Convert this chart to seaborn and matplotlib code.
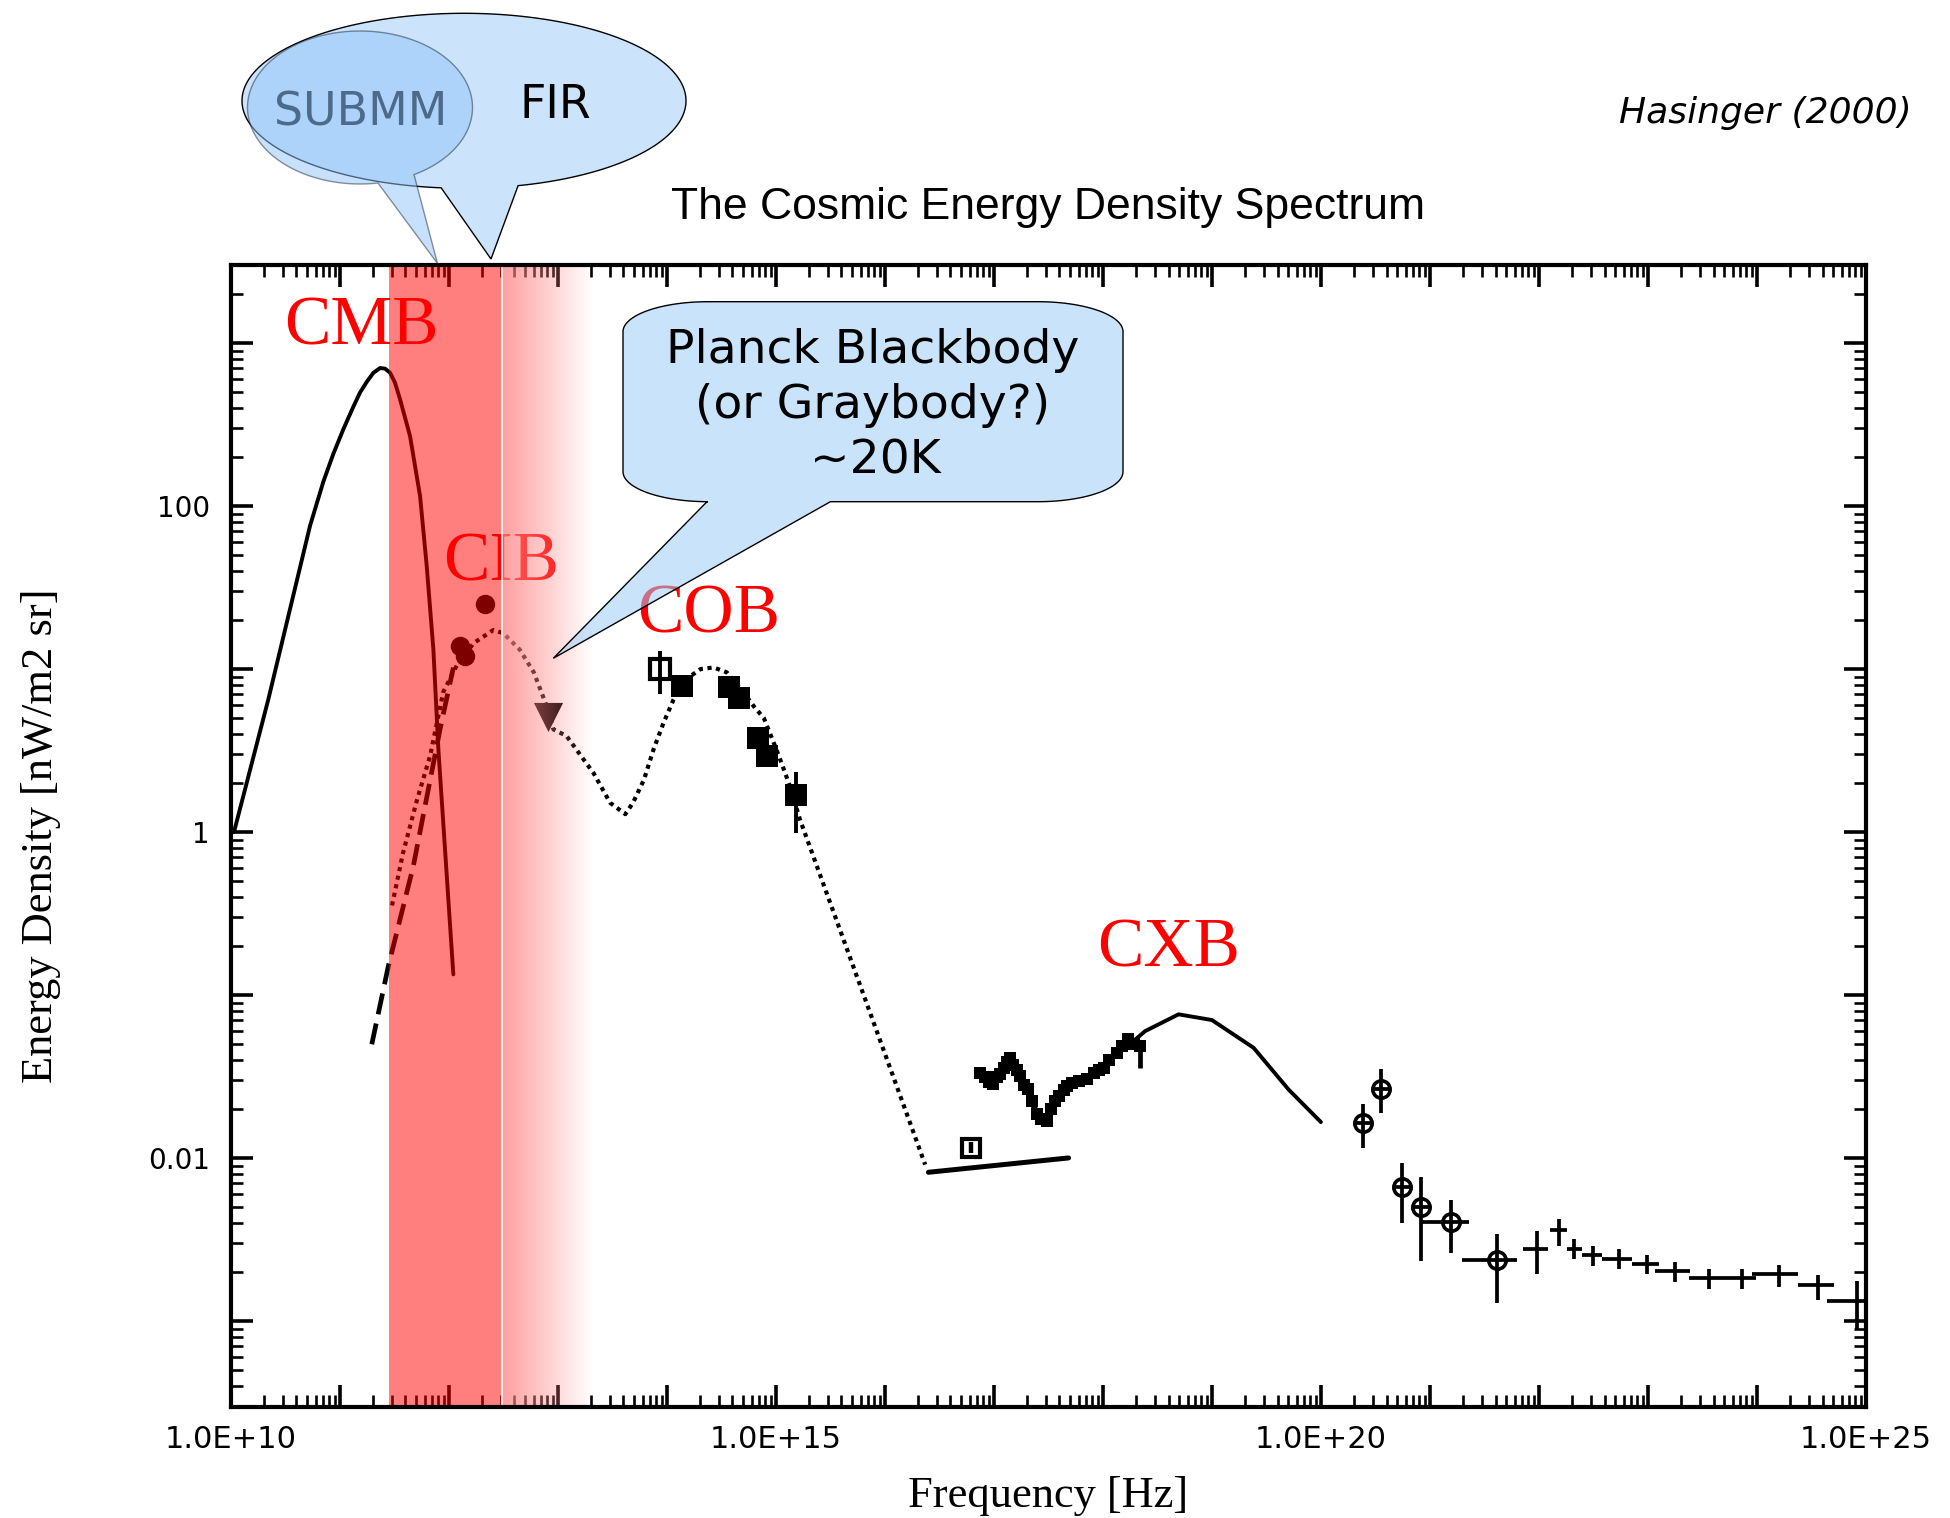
import numpy as np
import matplotlib
matplotlib.use("Agg")
import matplotlib.pyplot as plt
from matplotlib import ticker
from matplotlib.patches import Polygon
import seaborn as sns

sns.set_style("white")
plt.rcParams["font.family"] = ["DejaVu Sans"]
plt.rcParams["axes.axisbelow"] = "line"
for key in ["text.color", "axes.labelcolor", "xtick.color", "ytick.color", "axes.edgecolor"]:
    plt.rcParams[key] = "black"

# values as log10(nu / Hz) and log10(E / nW m^-2 sr^-1)

# CMB blackbody
cmb_lognu = [10.03, 10.345, 10.728, 10.850, 10.941, 11.033, 11.125, 11.186, 11.248, 11.308, 11.370,
             11.416, 11.462, 11.507, 11.554, 11.645, 11.737, 11.798, 11.859, 11.905, 12.042]
cmb_loge = [0.00, 0.814, 1.880, 2.150, 2.320, 2.471, 2.610, 2.696, 2.762, 2.817, 2.847,
            2.843, 2.818, 2.757, 2.654, 2.429, 2.061, 1.632, 1.121, 0.507, -0.873]

# CIB extrapolation (dashed)
cibx_lognu = [11.294, 11.446, 11.675, 11.920, 12.042]
cibx_loge = [-1.302, -0.822, -0.209, 0.630, 1.009]

# CIB measurements
cib_lognu = [12.104, 12.150, 12.333]
cib_loge = [1.141, 1.080, 1.397]
cib_lim_lognu = [12.914]
cib_lim_loge = [0.705]

# CIB + COB model (dotted)
mod_lognu = [11.48, 11.58, 11.71, 11.83, 11.95, 12.08, 12.23, 12.41, 12.50, 12.65, 12.78, 12.90,
             12.96, 13.08, 13.33, 13.48, 13.62, 13.69, 13.79, 13.88, 13.97, 14.06, 14.18, 14.31,
             14.43, 14.55, 14.70, 14.80, 14.89, 14.98, 15.06, 15.13, 15.22, 16.37]
mod_loge = [-0.45, -0.13, 0.20, 0.47, 0.86, 1.03, 1.16, 1.24, 1.22, 1.12, 0.98, 0.77,
            0.63, 0.59, 0.36, 0.18, 0.11, 0.18, 0.32, 0.51, 0.67, 0.81, 0.94, 1.00,
            1.01, 0.98, 0.86, 0.77, 0.70, 0.55, 0.41, 0.28, 0.08, -2.04]

# COB
cob_open_lognu = [13.939]
cob_open_loge = [0.998]
cob_open_lo = [0.845]
cob_open_hi = [1.110]
cob_lognu = [14.143, 14.572, 14.663, 14.835, 14.923, 15.186]
cob_loge = [0.896, 0.892, 0.824, 0.579, 0.466, 0.225]
cob_lo = [0.84, 0.86, 0.78, 0.55, 0.44, -0.004]
cob_hi = [0.96, 0.93, 0.85, 0.64, 0.50, 0.368]

# UV / EUV
uv_lognu = [16.400, 17.685]
uv_loge = [-2.087, -1.999]
uv_pt_lognu = [16.789]
uv_pt_loge = [-1.941]
uv_pt_lo = [-1.971]
uv_pt_hi = [-1.902]

# soft X-ray spectrum
sx_lognu = [16.874, 16.92, 16.96, 16.996, 17.03, 17.058, 17.09, 17.12, 17.149, 17.18, 17.21, 17.241,
            17.28, 17.317, 17.35, 17.394, 17.43, 17.486, 17.52, 17.562, 17.60, 17.64, 17.670, 17.72,
            17.78, 17.853, 17.92, 17.96, 18.006, 18.06, 18.128, 18.18, 18.235, 18.29, 18.342]
sx_loge = [-1.481, -1.50, -1.535, -1.548, -1.50, -1.487, -1.45, -1.41, -1.384, -1.43, -1.46, -1.497,
           -1.55, -1.579, -1.65, -1.732, -1.76, -1.773, -1.70, -1.650, -1.62, -1.58, -1.558, -1.54,
           -1.53, -1.517, -1.48, -1.46, -1.445, -1.40, -1.353, -1.31, -1.272, -1.30, -1.313]
sx_err_lognu = [18.342]
sx_err_mid = [-1.313]
sx_err_lo = [-1.445]
sx_err_hi = [-1.291]

# CXB
cxb_lognu = [18.281, 18.388, 18.694, 19.000, 19.382, 19.703, 20.000]
cxb_loge = [-1.282, -1.221, -1.118, -1.153, -1.323, -1.579, -1.779]

# gamma rays, circles
gc_lognu = [20.383, 20.548, 20.740, 20.918, 21.194, 21.617]
gc_loge = [-1.783, -1.574, -2.178, -2.301, -2.393, -2.628]
gc_loge_lo = [-1.936, -1.721, -2.396, -2.632, -2.580, -2.887]
gc_loge_hi = [-1.670, -1.456, -2.033, -2.114, -2.260, -2.464]
gc_lognu_lo = [20.30, 20.465, 20.657, 20.835, 20.918, 21.294]
gc_lognu_hi = [20.466, 20.631, 20.823, 21.001, 21.359, 21.798]

# gamma rays, crosses
gx_lognu = [21.982, 22.180, 22.322, 22.497, 22.735, 22.991, 23.250, 23.556, 23.862, 24.206, 24.561, 24.914]
gx_loge = [-2.556, -2.439, -2.556, -2.592, -2.617, -2.652, -2.693, -2.734, -2.734, -2.714, -2.781, -2.877]
gx_loge_lo = [-2.714, -2.540, -2.622, -2.659, -2.683, -2.714, -2.761, -2.806, -2.806, -2.789, -2.873, -3.051]
gx_loge_hi = [-2.448, -2.371, -2.499, -2.540, -2.560, -2.597, -2.636, -2.679, -2.683, -2.658, -2.720, -2.755]
gx_lognu_lo = [21.855, 22.104, 22.257, 22.391, 22.581, 22.856, 23.067, 23.372, 23.71, 23.957, 24.378, 24.645]
gx_lognu_hi = [22.084, 22.257, 22.391, 22.581, 22.856, 23.097, 23.384, 23.71, 23.99, 24.378, 24.703, 25.04]

# region labels
labels = ["CMB", "CIB", "COB", "CXB"]
label_lognu = [11.202, 12.482, 14.388, 18.600]
label_loge = [2.992, 1.546, 1.223, -0.825]

# SUBMM / FIR band edges
band_solid = (11.452, 12.492)
band_fade = (12.492, 13.324)
XLIM = (10.0, 25.0)
YLIM = (-3.527, 3.479)


def p(v):
    return 10 ** np.asarray(v, dtype=float)


def errs(center, lo, hi):
    c = p(center)
    return [c - p(lo), p(hi) - c]


fig = plt.figure(figsize=(19.5, 15.18), dpi=100)
ax = fig.add_axes([0.11831, 0.07312, 0.83862, 0.75231])
ax.set_xscale("log")
ax.set_yscale("log")
ax.set_xlim(p(XLIM[0]), p(XLIM[1]))
ax.set_ylim(p(YLIM[0]), p(YLIM[1]))

dot = (0, (1, 1.1))
sns.lineplot(x=p(cmb_lognu), y=p(cmb_loge), ax=ax, color="k", lw=2.8, sort=False, estimator=None)
sns.lineplot(x=p(cibx_lognu), y=p(cibx_loge), ax=ax, color="k", lw=3.4, linestyle=(0, (4.5, 2)),
             sort=False, estimator=None)
sns.lineplot(x=p(mod_lognu), y=p(mod_loge), ax=ax, color="k", lw=3.0, linestyle=dot,
             sort=False, estimator=None)
sns.lineplot(x=p(uv_lognu), y=p(uv_loge), ax=ax, color="k", lw=3.6, sort=False, estimator=None)
sns.lineplot(x=p(sx_lognu), y=p(sx_loge), ax=ax, color="k", lw=4.2, marker="s", markersize=8,
             markeredgewidth=0, sort=False, estimator=None)
sns.lineplot(x=p(cxb_lognu), y=p(cxb_loge), ax=ax, color="k", lw=2.8, sort=False, estimator=None)

# markers
sns.scatterplot(x=p(cib_lognu), y=p(cib_loge), ax=ax, color="k", s=14 ** 2, linewidth=0, zorder=2.2)
sns.scatterplot(x=p(cib_lim_lognu), y=p(cib_lim_loge), ax=ax, color="k", marker="v", s=21 ** 2,
                linewidth=0, zorder=2.2)
sns.scatterplot(x=p(cob_lognu), y=p(cob_loge), ax=ax, color="k", marker="s", s=16.5 ** 2,
                linewidth=0, zorder=2.2)
ax.errorbar(p(cob_lognu), p(cob_loge), yerr=errs(cob_loge, cob_lo, cob_hi), fmt="none",
            ecolor="k", elinewidth=2.8, zorder=2.1)
ax.plot(p(cob_open_lognu), p(cob_open_loge), ls="none", marker="s", ms=14.5, mfc="none",
        mec="k", mew=3.0, zorder=2.2)
ax.errorbar(p(cob_open_lognu), p(cob_open_loge), yerr=errs(cob_open_loge, cob_open_lo, cob_open_hi),
            fmt="none", ecolor="k", elinewidth=2.8, zorder=2.1)
ax.plot(p(uv_pt_lognu), p(uv_pt_loge), ls="none", marker="s", ms=13, mfc="none",
        mec="k", mew=3.0, zorder=2.2)
ax.errorbar(p(uv_pt_lognu), p(uv_pt_loge), yerr=errs(uv_pt_loge, uv_pt_lo, uv_pt_hi),
            fmt="none", ecolor="k", elinewidth=3.2, zorder=2.1)
ax.errorbar(p(sx_err_lognu), p(sx_err_mid), yerr=errs(sx_err_mid, sx_err_lo, sx_err_hi),
            fmt="none", ecolor="k", elinewidth=3.4, zorder=2.1)

ax.plot(p(gc_lognu), p(gc_loge), ls="none", marker="o", ms=12.5, mfc="none", mec="k",
        mew=2.6, zorder=2.2)
ax.errorbar(p(gc_lognu), p(gc_loge), yerr=errs(gc_loge, gc_loge_lo, gc_loge_hi),
            xerr=errs(gc_lognu, gc_lognu_lo, gc_lognu_hi), fmt="none", ecolor="k",
            elinewidth=2.7, zorder=2.1)
ax.errorbar(p(gx_lognu), p(gx_loge), yerr=errs(gx_loge, gx_loge_lo, gx_loge_hi),
            xerr=errs(gx_lognu, gx_lognu_lo, gx_lognu_hi), fmt="none", ecolor="k",
            elinewidth=2.7, zorder=2.1)

for name, lx, ly in zip(labels, label_lognu, label_loge):
    ax.text(p(lx), p(ly), name, ha="center", va="baseline", fontsize=50, color="red",
            family="Liberation Serif", zorder=2.5)

# SUBMM / FIR band drawn over the data
ax.axvspan(p(band_solid[0]), p(band_solid[1]), color=(1.0, 0.0, 0.0), alpha=0.5, lw=0, zorder=3)
fade = np.zeros((2, 256, 4))
fade[..., 0] = 1.0
fade[..., 1] = 0.5
fade[..., 2] = 0.5
fade[..., 3] = np.linspace(0.75, 0.0, 256)
fx0 = (band_fade[0] - XLIM[0]) / (XLIM[1] - XLIM[0])
fx1 = (band_fade[1] - XLIM[0]) / (XLIM[1] - XLIM[0])
ax.imshow(fade, extent=[fx0, fx1, 0, 1], transform=ax.transAxes, aspect="auto",
          interpolation="bilinear", zorder=3)
ax.axvline(p(band_fade[0]), color="white", lw=1.2, zorder=3.1)
ax.set_xlim(p(XLIM[0]), p(XLIM[1]))
ax.set_ylim(p(YLIM[0]), p(YLIM[1]))

# axes styling
for s in ax.spines.values():
    s.set_linewidth(3.0)
    s.set_color("k")
    s.set_zorder(4)
ax.xaxis.set_major_locator(ticker.LogLocator(base=10, numticks=40))
ax.xaxis.set_minor_locator(ticker.LogLocator(base=10, subs=np.arange(2, 10), numticks=400))
ax.yaxis.set_major_locator(ticker.LogLocator(base=10, numticks=40))
ax.yaxis.set_minor_locator(ticker.LogLocator(base=10, subs=np.arange(2, 10), numticks=400))


def xfmt(v, pos):
    e = int(round(np.log10(v)))
    return "1.0E+%d" % e if e % 5 == 0 else ""


def yfmt(v, pos):
    e = int(round(np.log10(v)))
    return {2: "100", 0: "1", -2: "0.01"}.get(e, "")


ax.xaxis.set_major_formatter(ticker.FuncFormatter(xfmt))
ax.yaxis.set_major_formatter(ticker.FuncFormatter(yfmt))
ax.xaxis.set_minor_formatter(ticker.NullFormatter())
ax.yaxis.set_minor_formatter(ticker.NullFormatter())
ax.tick_params(which="major", direction="in", length=16, width=2.6,
               top=True, right=True, bottom=True, left=True, color="k")
ax.tick_params(which="minor", direction="in", length=8.5, width=1.9,
               top=True, right=True, bottom=True, left=True, color="k")
ax.tick_params(axis="x", which="major", labelsize=22, pad=13, labelcolor="k")
ax.tick_params(axis="y", which="major", labelsize=20, pad=15, labelcolor="k")

fig.text(1048 / 1950, 1 - 1496 / 1518, "Frequency [Hz]", ha="center", va="center",
         fontsize=32, family="Liberation Serif", color="k")
fig.text(41 / 1950, 1 - 836 / 1518, "Energy Density [nW/m2 sr]", ha="center", va="center",
         rotation=90, fontsize=32, family="Liberation Serif", color="k")

# overlay in pixel coordinates for title and callouts
ov = fig.add_axes([0, 0, 1, 1], zorder=10)
ov.set_xlim(0, 1950)
ov.set_ylim(1518, 0)
ov.axis("off")
ov.patch.set_alpha(0)


def ellipse_callout(cx, cy, rx, ry, t0, t1, tip):
    t = np.radians(np.linspace(t0, t1 + 360, 240))
    pts = np.column_stack([cx + rx * np.cos(t), cy + ry * np.sin(t)])
    return np.vstack([pts, tip])


def rect_callout(x0, y0, x1, y1, rx, ry, base_l, base_r, tip):
    def arc(cx, cy, a0, a1):
        t = np.radians(np.linspace(a0, a1, 30))
        return np.column_stack([cx + rx * np.cos(t), cy + ry * np.sin(t)])
    pts = [np.array([[base_r, y1]]),
           arc(x1 - rx, y1 - ry, 90, 0),
           arc(x1 - rx, y0 + ry, 0, -90),
           arc(x0 + rx, y0 + ry, -90, -180),
           arc(x0 + rx, y1 - ry, 180, 90),
           np.array([[base_l, y1], tip])]
    return np.vstack(pts)


ov.add_patch(Polygon(ellipse_callout(464, 100.8, 222, 87.5, 95.9, 75.9, (491, 259)),
                     closed=True, fc="#cce4fb", ec="k", lw=1.0))
ov.add_patch(Polygon(ellipse_callout(360, 107.5, 112.5, 76.5, 80.8, 61.3, (437.5, 263.5)),
                     closed=True, fc="#90c4fb", alpha=0.5, ec="#1a2a3a", lw=1.0))
ov.text(361, 125, "SUBMM", ha="center", va="baseline", fontsize=33, color="#4d6a8a")
ov.text(555, 118.5, "FIR", ha="center", va="baseline", fontsize=33, color="k")

callout = rect_callout(623, 301.7, 1123, 501.7, 85, 30, 707, 830.4, (553.3, 658.3))
ov.add_patch(Polygon(callout, closed=True, fc="#9dccf8", alpha=0.55, ec="none"))
ov.add_patch(Polygon(callout, closed=True, fc="none", ec="k", lw=1.0))
ov.text(873, 363, "Planck Blackbody", ha="center", va="baseline", fontsize=34, color="k")
ov.text(873, 418, "(or Graybody?)", ha="center", va="baseline", fontsize=34, color="k")
ov.text(875, 473, "~20K", ha="center", va="baseline", fontsize=34, color="k")

ov.text(1048, 219, "The Cosmic Energy Density Spectrum", ha="center", va="baseline",
        fontsize=32, family="Liberation Sans", color="k")
ov.text(1912, 123, "Hasinger (2000)", ha="right", va="baseline", fontsize=26, style="italic",
        color="k")

fig.savefig("out.png", dpi=100)
